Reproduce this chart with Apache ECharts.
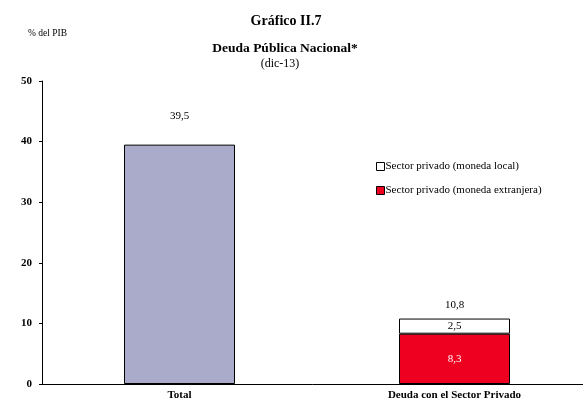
<!DOCTYPE html>
<html>
<head>
<meta charset="utf-8">
<script src="https://cdn.jsdelivr.net/npm/echarts@6/dist/echarts.min.js"></script>
<style>
  html, body { margin: 0; padding: 0; background: #fff; }
  #chart { width: 583px; height: 404px; }
</style>
</head>
<body>
<div id="chart"></div>
<script>
// Public debt as % of GDP, December 2013
var categories = ['Total', 'Deuda con el Sector Privado'];
var totalDebt = [39.5, null];
var privateForeign = [null, 8.3];   // moneda extranjera
var privateLocal = [null, 2.5];     // moneda local
var privateTotal = [null, 10.8];
var yTicks = [0, 10, 20, 30, 40, 50];

var SERIF = '"Liberation Serif", "Times New Roman", serif';
function fmt(v) { return String(v).replace('.', ','); }

var chart = echarts.init(document.getElementById('chart'));
chart.setOption({
  animation: false,
  backgroundColor: '#fff',
  textStyle: { fontFamily: SERIF },
  title: [
    { text: 'Gráfico II.7', left: 281, top: 9, textAlign: 'center',
      textStyle: { fontFamily: SERIF, fontSize: 14, fontWeight: 'bold', color: '#000' } },
    { text: 'Deuda Pública Nacional*', left: 280, top: 37, textAlign: 'center',
      textStyle: { fontFamily: SERIF, fontSize: 13.5, fontWeight: 'bold', color: '#000' } },
    { text: '(dic-13)', left: 275, top: 53, textAlign: 'center',
      textStyle: { fontFamily: SERIF, fontSize: 12, fontWeight: 'normal', color: '#000' } },
    { text: '% del PIB', left: 23, top: 23,
      textStyle: { fontFamily: SERIF, fontSize: 9.5, fontWeight: 'normal', color: '#000' } }
  ],
  legend: {
    orient: 'vertical',
    left: 371,
    top: 156,
    itemWidth: 8,
    itemHeight: 8,
    itemGap: 13,
    icon: 'rect',
    textStyle: { fontFamily: SERIF, fontSize: 11, color: '#000', padding: [0, 0, 0, -4] },
    data: [
      { name: 'Sector privado (moneda local)',
        itemStyle: { color: '#fff', borderColor: '#000', borderWidth: 1 } },
      { name: 'Sector privado (moneda extranjera)',
        itemStyle: { color: '#EE0020', borderColor: '#000', borderWidth: 1 } }
    ]
  },
  grid: { left: 42, width: 550, top: 81, bottom: 20, containLabel: false, outerBoundsMode: 'none' },
  xAxis: {
    type: 'category',
    data: categories,
    axisLine: { lineStyle: { color: '#000', width: 1 } },
    axisTick: { show: false },
    axisLabel: { color: '#000', fontFamily: SERIF, fontSize: 11, fontWeight: 'bold', margin: 6 }
  },
  yAxis: {
    type: 'value',
    min: yTicks[0],
    max: yTicks[yTicks.length - 1],
    interval: 10,
    axisLine: { show: true, lineStyle: { color: '#000', width: 1 } },
    axisTick: { show: true, length: 3, lineStyle: { color: '#000' } },
    splitLine: { show: false },
    axisLabel: { color: '#000', fontFamily: SERIF, fontSize: 11, fontWeight: 'bold', margin: 10 }
  },
  series: [
    {
      name: 'Total',
      type: 'bar',
      stack: 'deuda',
      barWidth: 111,
      data: totalDebt,
      itemStyle: { color: '#AAAACA', borderColor: '#000', borderWidth: 1 },
      label: {
        show: true, position: 'top', distance: 23,
        fontFamily: SERIF, fontSize: 11, color: '#000',
        formatter: function (p) { return fmt(p.value); }
      }
    },
    {
      name: 'Sector privado (moneda extranjera)',
      type: 'bar',
      stack: 'deuda',
      barWidth: 111,
      data: privateForeign,
      itemStyle: { color: '#EE0020', borderColor: '#000', borderWidth: 1 },
      label: {
        show: true, position: 'inside',
        fontFamily: SERIF, fontSize: 11, color: '#fff',
        formatter: function (p) { return fmt(p.value); }
      }
    },
    {
      name: 'Sector privado (moneda local)',
      type: 'bar',
      stack: 'deuda',
      barWidth: 111,
      data: privateLocal,
      itemStyle: { color: '#fff', borderColor: '#000', borderWidth: 1 },
      label: {
        show: true, position: 'inside',
        fontFamily: SERIF, fontSize: 11, color: '#000',
        formatter: function (p) { return fmt(p.value); }
      }
    },
    {
      name: 'Total privado',
      type: 'scatter',
      data: privateTotal,
      symbolSize: 0,
      silent: true,
      itemStyle: { opacity: 1 },
      label: {
        show: true, position: 'top', distance: 8,
        fontFamily: SERIF, fontSize: 11, color: '#000', opacity: 1,
        formatter: function (p) { return fmt(p.value); }
      }
    }
  ]
});
</script>
</body>
</html>
